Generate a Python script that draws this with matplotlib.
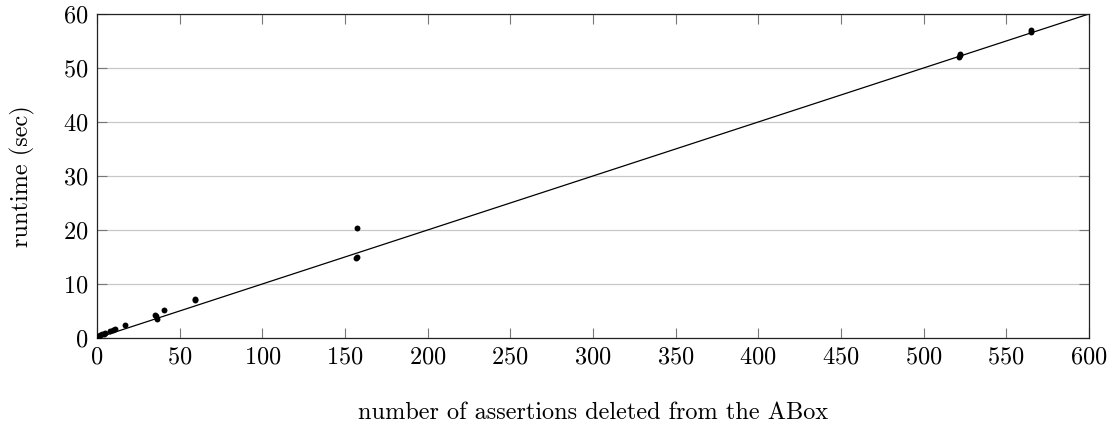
import matplotlib
matplotlib.use('Agg')
import matplotlib.pyplot as plt
import numpy as np

plt.rcParams['font.family'] = 'serif'
plt.rcParams['font.serif'] = ['cmr10']
plt.rcParams['mathtext.fontset'] = 'cm'
plt.rcParams['axes.formatter.use_mathtext'] = True

# Data: number of deleted assertions vs runtime
deleted = [0.3, 0.5, 1, 1.5, 2, 3, 4, 5, 8, 10, 11, 17, 35, 35.5, 36.5, 40.5,
           59, 59.5, 156.5, 157.5, 157.5, 521.5, 521.8, 522, 564.8, 565]
runtime = [0.1, 0.2, 0.3, 0.4, 0.6, 0.7, 0.8, 1.0, 1.3, 1.5, 1.6, 2.4, 4.3, 4.1, 3.6, 5.1,
           7.0, 7.2, 14.9, 15.0, 20.4, 52.0, 52.4, 52.6, 56.7, 57.1]

# fitted line y = slope * x
slope = 0.1
fit_x = [0, 600]

fig = plt.figure(figsize=(11.12, 4.28), dpi=100)
ax = fig.add_axes([0.0872, 0.2103, 0.892, 0.757])

ax.scatter(deleted, runtime, s=18, color='black', zorder=3, linewidths=0)
ax.plot(fit_x, [slope * v for v in fit_x], color='black', linewidth=0.9, zorder=2)

ax.set_xlim(0, 600)
ax.set_ylim(0, 60)
ax.set_xticks(np.arange(0, 601, 50))
ax.set_yticks(np.arange(0, 61, 10))
ax.yaxis.grid(True, color='#c8c8c8', linewidth=0.9)
ax.set_axisbelow(True)
ax.tick_params(direction='in', top=True, right=True, labelsize=17.5, length=7.5,
               width=0.8, color='#777777', pad=6)
for s in ax.spines.values():
    s.set_linewidth(0.9)
    s.set_color('#222222')

ax.set_xlabel('number of assertions deleted from the ABox', fontsize=17.5, labelpad=24)
ax.set_ylabel('runtime (sec)', fontsize=17.5, labelpad=20)

fig.savefig('out.png', dpi=100)
